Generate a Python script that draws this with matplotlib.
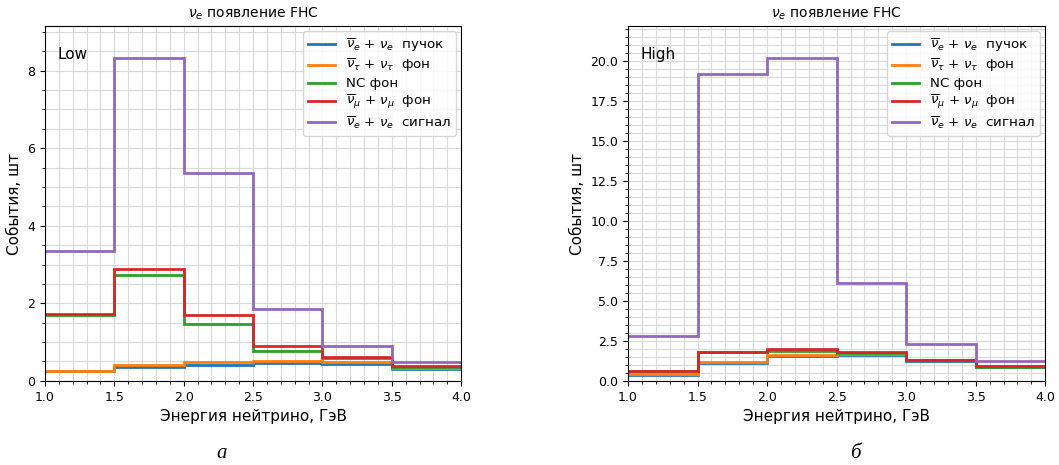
import matplotlib.pyplot as plt
from matplotlib.ticker import MultipleLocator
import numpy as np

edges = [1.0, 1.5, 2.0, 2.5, 3.0, 3.5, 4.0]

labels = [r"$\overline{\nu}_e$ + $\nu_e$  пучок",
          r"$\overline{\nu}_\tau$ + $\nu_\tau$  фон",
          "NC фон",
          r"$\overline{\nu}_\mu$ + $\nu_\mu$  фон",
          r"$\overline{\nu}_e$ + $\nu_e$  сигнал"]
colors = ['#1f77b4', '#ff7f0e', '#2ca02c', '#d62728', '#9467bd']

# Low
low_beam = [0.25, 0.36, 0.42, 0.45, 0.44, 0.30]
low_tau = [0.26, 0.40, 0.48, 0.50, 0.48, 0.34]
low_nc = [1.70, 2.72, 1.46, 0.78, 0.58, 0.36]
low_mu = [1.72, 2.88, 1.71, 0.89, 0.61, 0.39]
low_sig = [3.35, 8.32, 5.35, 1.85, 0.89, 0.49]

# High
high_beam = [0.38, 1.10, 1.58, 1.62, 1.25, 0.88]
high_tau = [0.40, 1.15, 1.63, 1.67, 1.28, 0.90]
high_nc = [0.60, 1.78, 1.88, 1.72, 1.30, 0.88]
high_mu = [0.63, 1.82, 1.99, 1.78, 1.32, 0.90]
high_sig = [2.78, 19.18, 20.19, 6.14, 2.30, 1.25]


def draw_panel(ax, series, tag, ymajor):
    for vals, lab, col in zip(series, labels, colors):
        ax.stairs(vals, edges, baseline=None, color=col, linewidth=2, label=lab)
    ymax = max(max(v) for v in series) * 1.1
    ax.set_xlim(1.0, 4.0)
    ax.set_ylim(0, ymax)
    ax.yaxis.set_major_locator(MultipleLocator(ymajor))
    ax.xaxis.set_major_locator(MultipleLocator(0.5))
    ax.xaxis.set_minor_locator(MultipleLocator(0.1))
    ax.yaxis.set_minor_locator(MultipleLocator(0.5))
    ax.grid(True, which='both', color='#d9d9d9', linewidth=0.8)
    ax.set_axisbelow(True)
    ax.set_title(r"$\nu_e$ появление FHC", fontsize=10)
    ax.set_xlabel("Энергия нейтрино, ГэВ", fontsize=11)
    ax.set_ylabel("События, шт", fontsize=11)
    ax.tick_params(labelsize=9)
    ax.text(0.03, 0.92, tag, transform=ax.transAxes, fontsize=11, va='center')
    ax.legend(loc='upper right', fontsize=9.6, handlelength=2.0,
              labelspacing=0.22, borderaxespad=0.4)


fig = plt.figure(figsize=(10.59, 4.65), dpi=100)
ax1 = fig.add_axes([0.0425, 0.181, 0.393, 0.763])
ax2 = fig.add_axes([0.593, 0.181, 0.394, 0.763])

draw_panel(ax1, [low_beam, low_tau, low_nc, low_mu, low_sig], "Low", 2)
draw_panel(ax2, [high_beam, high_tau, high_nc, high_mu, high_sig], "High", 2.5)

fig.text(0.209, 0.015, "а", fontsize=15, style='italic', family='Liberation Serif', ha='center')
fig.text(0.808, 0.015, "б", fontsize=15, style='italic', family='Liberation Serif', ha='center')

plt.savefig('out.png', dpi=100)
